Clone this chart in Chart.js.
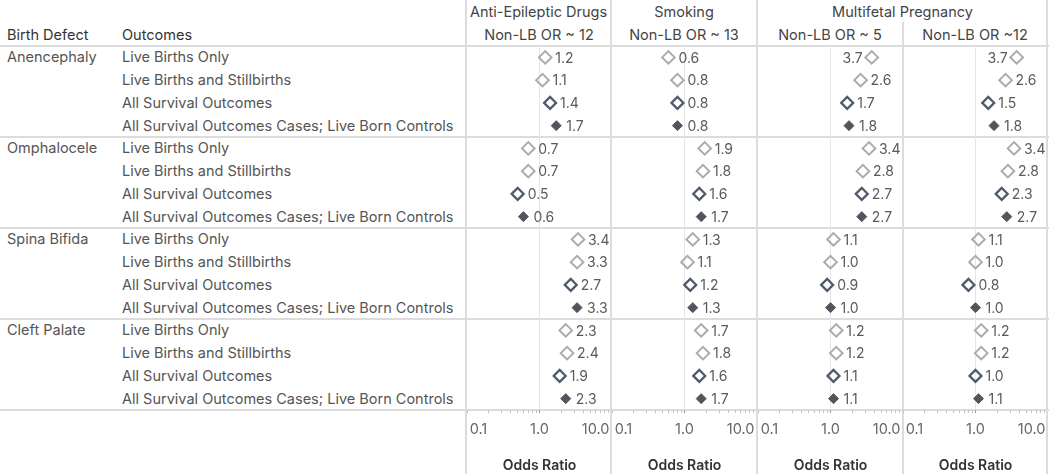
<!DOCTYPE html>
<html>
<head>
<meta charset="utf-8">
<script src="https://cdn.jsdelivr.net/npm/chart.js@4.4.0/dist/chart.umd.min.js"></script>
<style>
  html, body { margin: 0; padding: 0; background: #fff; }
  #root { position: relative; width: 1050px; height: 474px; overflow: hidden; font-family: Inter, sans-serif; }
  .t { position: absolute; white-space: nowrap; line-height: 18px; transform: translateY(-50%); font-size: 14.5px; }
  .c { transform: translate(-50%, -50%); }
  .hl { position: absolute; height: 2px; background: #dcdcdc; }
  .vl { position: absolute; width: 2px; background: #dcdcdc; }
  .panel { position: absolute; top: 46px; height: 428px; }
</style>
</head>
<body>
<div id="root"></div>
<script>
    // ---- data ----
    const defects = ['Anencephaly', 'Omphalocele', 'Spina Bifida', 'Cleft Palate'];
    const outcomes = ['Live Births Only', 'Live Births and Stillbirths', 'All Survival Outcomes',
        'All Survival Outcomes Cases; Live Born Controls'];
    const exposures = ['Anti-Epileptic Drugs', 'Smoking', 'Multifetal Pregnancy'];
    const subtitles = ['Non-LB OR ~ 12', 'Non-LB OR ~ 13', 'Non-LB OR ~ 5', 'Non-LB OR ~12'];

    // odds ratios, rows = defect x outcome in the order above
    const aedOR         = [1.2, 1.1, 1.4, 1.7,  0.7, 0.7, 0.5, 0.6,  3.4, 3.3, 2.7, 3.3,  2.3, 2.4, 1.9, 2.3];
    const smokingOR     = [0.6, 0.8, 0.8, 0.8,  1.9, 1.8, 1.6, 1.7,  1.3, 1.1, 1.2, 1.3,  1.7, 1.8, 1.6, 1.7];
    const multifetal5OR = [3.7, 2.6, 1.7, 1.8,  3.4, 2.8, 2.7, 2.7,  1.1, 1.0, 0.9, 1.0,  1.2, 1.2, 1.1, 1.1];
    const multifetal12OR= [3.7, 2.6, 1.5, 1.8,  3.4, 2.8, 2.3, 2.7,  1.1, 1.0, 0.8, 1.0,  1.2, 1.2, 1.0, 1.1];

    const xTickValues = [0.1, 0.2, 0.3, 0.4, 0.5, 0.6, 0.7, 0.8, 0.9, 1, 2, 3, 4, 5, 6, 7, 8, 9, 10];
    const xLabelValues = [0.1, 1, 10];
    const xTickLabels = ['\u20090.1', '1.0', '10.0\u2009'];

    // ---- layout ----
    const HEADER_H = 46, ROW_H = 22.75, NROWS = 16, AXIS_H = 64;
    const panelLeft = [467, 612, 758, 903];
    const panelWidth = 145;
    const FONT = 'Inter';

    const outcomeStyle = [
        { bg: 'rgba(0,0,0,0)', border: '#ababab', bw: 2, r: 6.3 },
        { bg: 'rgba(0,0,0,0)', border: '#ababab', bw: 2, r: 6.3 },
        { bg: 'rgba(0,0,0,0)', border: '#4f5a6c', bw: 2.2, r: 6 },
        { bg: '#50555e', border: '#50555e', bw: 1, r: 5 }
    ];

    const root = document.getElementById('root');
    function add(cls, style, text) {
        const d = document.createElement('div');
        d.className = cls;
        Object.assign(d.style, style);
        if (text) d.textContent = text;
        root.appendChild(d);
        return d;
    }

    // grid lines
    const tableBottom = HEADER_H + NROWS * ROW_H;
    [HEADER_H, HEADER_H + 4 * ROW_H, HEADER_H + 8 * ROW_H, HEADER_H + 12 * ROW_H, tableBottom].forEach(y => {
        add('hl', { left: '0px', top: (y - 1) + 'px', width: '1049px' });
    });
    [466, 611, 757, 1047].forEach(x => add('vl', { left: (x - 1) + 'px', top: '0px', height: '474px' }));
    add('vl', { left: '902px', top: '22px', height: '452px' });

    // headers
    add('t', { left: '7px', top: '35px', color: '#333' }, 'Birth Defect');
    add('t', { left: '122px', top: '35px', color: '#333' }, 'Outcomes');
    add('t c', { left: (466 + 611) / 2 + 'px', top: '12px', color: '#444' }, exposures[0]);
    add('t c', { left: (611 + 757) / 2 + 'px', top: '12px', color: '#444' }, exposures[1]);
    add('t c', { left: (757 + 1048) / 2 + 'px', top: '12px', color: '#444' }, exposures[2]);
    [466, 611, 757, 902].forEach((x, i) => {
        add('t c', { left: (x + 73) + 'px', top: '35px', color: '#444' }, subtitles[i]);
    });

    // row labels
    defects.forEach((d, di) => {
        outcomes.forEach((o, oi) => {
            const y = HEADER_H + (di * 4 + oi + 0.5) * ROW_H;
            if (oi === 0) add('t', { left: '7px', top: y + 'px', color: '#555' }, d);
            add('t', { left: '122px', top: y + 'px', color: '#555' }, o);
        });
    });

    // value labels beside each diamond, flipped left when they would leave the pane
    const pointLabels = {
        id: 'pointLabels',
        afterDatasetsDraw(chart) {
            const { ctx, chartArea } = chart;
            ctx.save();
            ctx.font = '14px ' + FONT;
            ctx.fillStyle = '#5a5a5a';
            ctx.textBaseline = 'middle';
            const need = 11 + ctx.measureText('0.0').width;   // same rule for every label
            chart.data.datasets.forEach((ds, di) => {
                chart.getDatasetMeta(di).data.forEach((pt, i) => {
                    const txt = ds.data[i].x.toFixed(1);
                    if (chartArea.right - pt.x < need) {
                        ctx.textAlign = 'right';
                        ctx.fillText(txt, pt.x - 9, pt.y + 1);
                    } else {
                        ctx.textAlign = 'left';
                        ctx.fillText(txt, pt.x + 10, pt.y + 1);
                    }
                });
            });
            ctx.restore();
        }
    };

    function buildDatasets(values) {
        return outcomes.map((o, oi) => ({
            label: o,
            data: defects.map((d, di) => ({ x: values[di * 4 + oi], y: di * 4 + oi })),
            pointStyle: 'rectRot',
            pointRadius: outcomeStyle[oi].r,
            pointBackgroundColor: outcomeStyle[oi].bg,
            pointBorderColor: outcomeStyle[oi].border,
            pointBorderWidth: outcomeStyle[oi].bw,
            showLine: false,
            clip: false
        }));
    }

    const panelValues = [aedOR, smokingOR, multifetal5OR, multifetal12OR];
    panelValues.forEach((values, pi) => {
        const box = add('panel', { left: panelLeft[pi] + 'px', width: panelWidth + 'px' });
        const canvas = document.createElement('canvas');
        box.appendChild(canvas);
        new Chart(canvas.getContext('2d'), {
            type: 'scatter',
            data: { datasets: buildDatasets(values) },
            options: {
                responsive: true,
                maintainAspectRatio: false,
                animation: false,
                events: [],
                layout: { padding: 0, autoPadding: false },
                plugins: { legend: { display: false }, tooltip: { enabled: false } },
                scales: {
                    x: {
                        type: 'logarithmic',
                        min: 0.1,
                        max: 10,
                        position: 'bottom',
                        afterBuildTicks: s => { s.ticks = xTickValues.map(v => ({ value: v })); },
                        afterFit: s => { s.height = AXIS_H; s.paddingLeft = 0; s.paddingRight = 0; },
                        border: { display: false },
                        grid: {
                            color: c => (c.tick && c.tick.value === 1) ? '#e6e6e6' : 'rgba(0,0,0,0)',
                            tickColor: c => (c.tick && c.tick.value === 1) ? '#999' : '#c4c4c4',
                            tickLength: 3,
                            lineWidth: 1
                        },
                        ticks: {
                            autoSkip: false,
                            maxRotation: 0,
                            align: 'inner',
                            padding: 8,
                            color: '#666',
                            font: { family: FONT, size: 14.5 },
                            callback: v => {
                                const k = xLabelValues.indexOf(v);
                                return k >= 0 ? xTickLabels[k] : '';
                            }
                        },
                        title: {
                            display: true,
                            text: 'Odds Ratio',
                            color: '#333',
                            font: { family: FONT, size: 14, weight: '600' },
                            padding: { top: 0, bottom: 0 }
                        }
                    },
                    y: { type: 'linear', min: -0.5, max: NROWS - 0.5, reverse: true, display: false }
                }
            },
            plugins: [pointLabels]
        });
    });
</script>
</body>
</html>
